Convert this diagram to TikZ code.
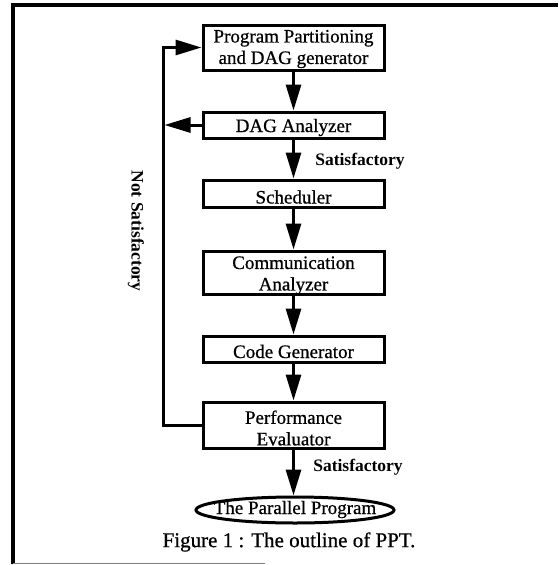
\documentclass[tikz,border=0pt]{standalone}
\usepackage{fontspec}
\setmainfont{Liberation Serif}
\newfontfamily\scanfont{Liberation Serif}[BoldFont={Liberation Serif}, BoldFeatures={FakeBold=0.7}]
\usetikzlibrary{arrows.meta,shapes.geometric}
\tikzset{
  stepbox/.style={draw=black, line width=3pt, minimum width=181pt, inner sep=0pt},
  boxtext/.style={inner sep=0pt, align=center, font=\fontsize{19}{21.5}\scanfont\bfseries},
  arr/.style={line width=3pt, -{Triangle[length=26pt,width=15pt]}},
  lab/.style={font=\fontsize{17.5}{20}\selectfont\bfseries, inner sep=0pt},
}
\begin{document}
\begin{tikzpicture}[x=1pt,y=-1pt]
\useasboundingbox (0,0) rectangle (558,565);
% frame
\draw[line width=4pt] (13,5) -- (558,5);
\draw[line width=4.5pt] (13,3) -- (13,564);
\draw[line width=1pt, gray] (13,563) -- (265,563);
% boxes
\node[stepbox, minimum height=45pt] (b1) at (293.5,47.5) {};
\node[stepbox, minimum height=26pt] (b2) at (293.5,125) {};
\node[stepbox, minimum height=27pt] (b3) at (293.5,193.5) {};
\node[stepbox, minimum height=43pt] (b4) at (293.5,272.5) {};
\node[stepbox, minimum height=26pt] (b5) at (293.5,349) {};
\node[stepbox, minimum height=46pt] (b6) at (293.5,425) {};
\node[draw=black, line width=3pt, ellipse, minimum width=198pt, minimum height=26pt, inner sep=0pt] (out) at (295,510) {};
% box texts
\node[boxtext] (t1) at ([yshift=-1.5pt]b1.center) {Program Partitioning\\and DAG generator};
\node[boxtext] (t2) at ([yshift=-2.5pt]b2.center) {DAG Analyzer};
\node[boxtext] (t3) at ([yshift=-3.5pt]b3.center) {Scheduler};
\node[boxtext] (t4) at ([yshift=-3pt]b4.center) {Communication\\Analyzer};
\node[boxtext] (t5) at ([yshift=-2.5pt]b5.center) {Code Generator};
\node[boxtext] (t6) at ([yshift=-3pt]b6.center) {Performance\\Evaluator};
\node[boxtext] (t7) at ([yshift=0.5pt]out.center) {The Parallel Program};
% labels
\node[lab] (s1) at (360,161) {Satisfactory};
\node[lab] (s2) at (358,467) {Satisfactory};
\node[lab, rotate=-90] (ns) at (136,231) {Not Satisfactory};
\node[inner sep=0pt, font=\fontsize{21}{24}\scanfont\bfseries] (cap) at (289,542) {Figure 1 : The outline of PPT.};
% coordinates for feedback loop
\coordinate (fbb) at (163,425);
\coordinate (fbt) at (163,47.5);
\coordinate (fbm) at (164.5,125);
% connectors
\draw[arr] (b1.south) -- (b2.north);
\draw[arr] (b2.south) -- (b3.north);
\draw[arr] (b3.south) -- (b4.north);
\draw[arr] (b4.south) -- (b5.north);
\draw[arr] (b5.south) -- (b6.north);
\draw[arr] (b6.south) -- (b6.south |- out.north);
\draw[arr] (b6.west) -- (fbb) -- (fbt) -- (b1.west);
\draw[arr] (b2.west) -- (fbm);
\end{tikzpicture}
\end{document}
